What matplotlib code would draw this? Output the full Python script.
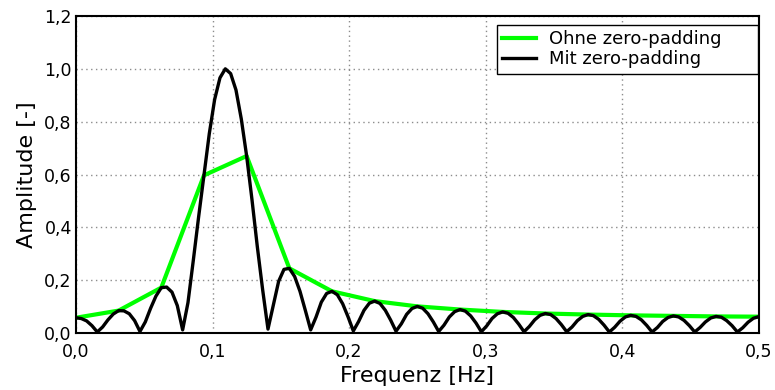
import matplotlib
matplotlib.use('Agg')
import matplotlib.pyplot as plt
from matplotlib.ticker import FuncFormatter, MultipleLocator
import numpy as np

# DFT of 32 samples (bin spacing 1/32 Hz) without and with zero-padding (256 points)
freq_raw = np.arange(17) / 32
amp_raw = [0.058, 0.085, 0.172, 0.597, 0.670, 0.245, 0.158, 0.121, 0.101,
           0.089, 0.080, 0.074, 0.070, 0.067, 0.065, 0.063, 0.062]

freq_pad = np.arange(129) / 256
amp_pad = [
    0.058, 0.055, 0.046, 0.028, 0.004, 0.023, 0.050, 0.072,
    0.085, 0.084, 0.073, 0.047, 0.006, 0.042, 0.094, 0.140,
    0.172, 0.174, 0.155, 0.104, 0.012, 0.115, 0.275, 0.440,
    0.597, 0.755, 0.884, 0.966, 1.000, 0.982, 0.920, 0.810,
    0.670, 0.505, 0.327, 0.164, 0.015, 0.106, 0.196, 0.241,
    0.245, 0.214, 0.158, 0.086, 0.012, 0.060, 0.117, 0.150,
    0.158, 0.145, 0.111, 0.062, 0.008, 0.044, 0.086, 0.113,
    0.121, 0.112, 0.086, 0.049, 0.007, 0.035, 0.071, 0.093,
    0.101, 0.094, 0.073, 0.042, 0.006, 0.030, 0.061, 0.081,
    0.089, 0.083, 0.065, 0.038, 0.005, 0.027, 0.055, 0.073,
    0.080, 0.075, 0.059, 0.034, 0.005, 0.025, 0.050, 0.067,
    0.074, 0.070, 0.055, 0.032, 0.005, 0.023, 0.047, 0.063,
    0.070, 0.066, 0.052, 0.030, 0.004, 0.022, 0.045, 0.061,
    0.067, 0.063, 0.050, 0.029, 0.004, 0.021, 0.044, 0.059,
    0.065, 0.061, 0.048, 0.028, 0.004, 0.021, 0.042, 0.057,
    0.063, 0.060, 0.047, 0.028, 0.004, 0.020, 0.041, 0.056,
    0.062,
]

labels = ['Ohne zero-padding', 'Mit zero-padding']

fig = plt.figure(figsize=(7.75, 3.9), dpi=100)
ax = fig.add_axes([0.098, 0.146, 0.881, 0.813])

ax.plot(freq_raw, amp_raw, color='#00ff00', lw=3.0, label=labels[0])
ax.plot(freq_pad, amp_pad, color='black', lw=2.4, label=labels[1])

ax.set_xlim(0, 0.5)
ax.set_ylim(0, 1.2)
ax.xaxis.set_major_locator(MultipleLocator(0.1))
ax.yaxis.set_major_locator(MultipleLocator(0.2))
comma = FuncFormatter(lambda v, pos: f'{v:.1f}'.replace('.', ','))
ax.xaxis.set_major_formatter(comma)
ax.yaxis.set_major_formatter(comma)
ax.tick_params(length=0, labelsize=12.5, colors='black')
ax.tick_params(axis='x', pad=7)
ax.tick_params(axis='y', pad=3)

ax.grid(True, color='#8c8c8c', linestyle=(0, (1, 2.5)), lw=1.0)
for spine in ax.spines.values():
    spine.set_linewidth(1.5)

ax.set_xlabel('Frequenz [Hz]', fontsize=16, labelpad=4)
ax.set_ylabel('Amplitude [-]', fontsize=16, labelpad=5)

leg = ax.legend(loc='upper right', bbox_to_anchor=(0.616, 0.0, 0.3825, 0.972),
                mode='expand', borderaxespad=0,
                fontsize=13, fancybox=False, framealpha=1, edgecolor='black',
                handlelength=1.9, handletextpad=0.7, labelspacing=0.1,
                borderpad=0.3)
leg.get_frame().set_linewidth(1.0)

fig.savefig('out.png', dpi=100)
